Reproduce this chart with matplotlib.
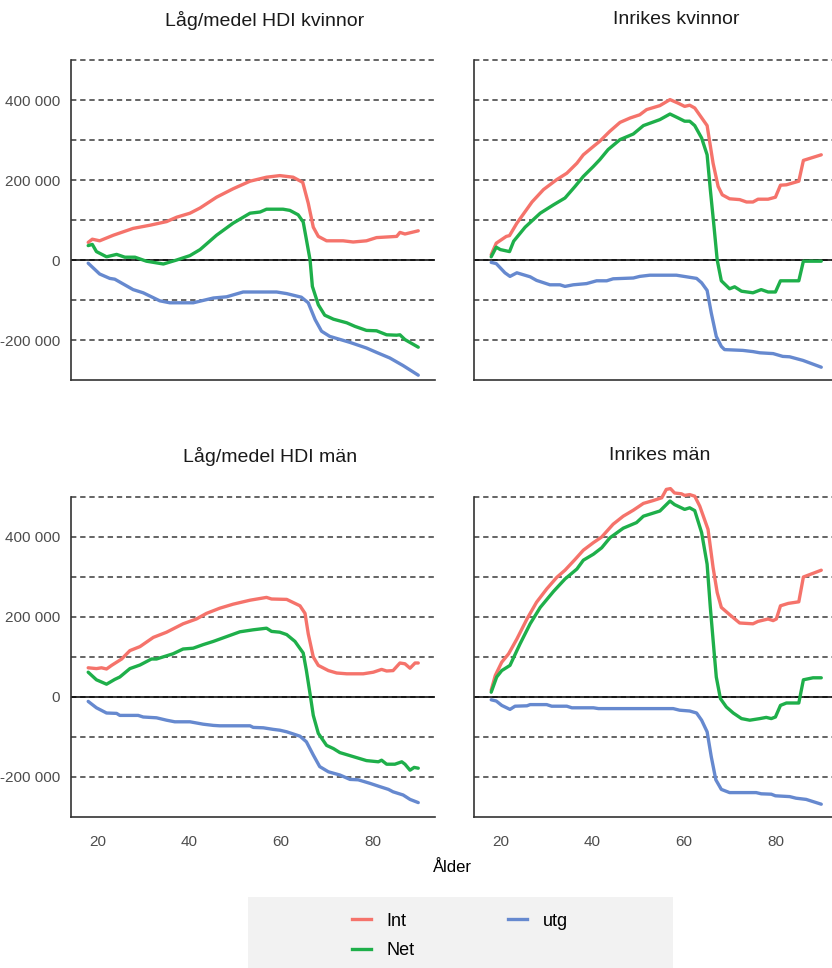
import matplotlib
matplotlib.use("Agg")
import matplotlib.pyplot as plt
from matplotlib.lines import Line2D
from matplotlib.patches import Rectangle
from matplotlib.ticker import FuncFormatter

plt.rcParams['font.family'] = ['Liberation Sans', 'DejaVu Sans']

# Värden i tusental
# Låg/medel HDI kvinnor
lk_int_age = [18, 18.9, 20.5, 23.5, 27.8, 31.5, 35.1, 37.3, 40.2, 42.4, 46, 49.6, 53.3, 56.9, 59.8,
              62.7, 64.8, 66, 67.1, 68.2, 70, 73.6, 75.8, 78.7, 80.9, 85.3, 86, 87.1, 90]
lk_int = [44, 52, 48, 62, 79, 87, 96, 107, 117, 130, 157, 178, 197, 207, 211,
          207, 194, 142, 82, 59, 48, 48, 45, 48, 56, 59, 69, 65, 73]
lk_net_age = [18, 18.9, 19.8, 22, 24.2, 26, 28.2, 30.7, 34.4, 37.3, 40.2, 42.4, 46, 49.6, 53.3, 55.5,
              56.9, 60.5, 62, 63.8, 64.9, 65.6, 66.4, 66.9, 68.2, 69.6, 71.5, 74.4, 76.2, 78.7,
              80.9, 83.1, 85.3, 86, 87.1, 90]
lk_net = [36, 39, 21, 8, 14, 7, 7, -3, -10, 0, 11, 26, 62, 92, 117, 120,
          127, 127, 124, 113, 95, 51, 0, -66, -112, -138, -148, -157, -166, -176,
          -177, -187, -188, -187, -199, -218]
lk_utg_age = [18, 20.5, 22.7, 23.8, 27.8, 30, 33.6, 35.8, 40.9, 45.3, 48.2, 51.8, 59.1, 61.3, 64.5,
              66, 67.5, 68.9, 70.7, 75.1, 78.7, 80.9, 83.8, 86.7, 90]
lk_utg = [-8, -35, -46, -48, -74, -82, -102, -107, -107, -95, -92, -80, -80, -84, -93,
          -107, -149, -178, -191, -206, -220, -231, -245, -264, -288]

# Inrikes kvinnor
ik_int_age = [18, 19.1, 21.3, 22, 23.6, 26.9, 29.4, 32.3, 34.5, 36.7, 38.1, 40.3, 41.7, 43.9, 46.1,
              48.3, 50.4, 51.9, 54.8, 57, 58.8, 60.2, 61.3, 62.4, 65.1, 66.4, 67.5, 68.4, 70, 72.2,
              73.7, 75.1, 76.2, 78.4, 80, 81.1, 82.4, 85.1, 86.1, 90]
ik_int = [13, 42, 59, 61, 92, 145, 176, 201, 217, 242, 263, 284, 297, 322, 344,
          355, 363, 376, 386, 401, 392, 384, 387, 380, 336, 242, 184, 163, 153, 151,
          145, 145, 152, 152, 157, 187, 188, 197, 249, 263]
ik_net_age = [18, 19.1, 20, 22, 22.9, 25.4, 28.7, 31.6, 34.1, 36.3, 38.1, 40.3, 41.7, 43.5, 46.1,
              49, 51.2, 54.8, 57, 58.8, 60.2, 61.3, 62.4, 63.9, 65.1, 65.8, 66.6, 67.3, 68.2, 70,
              71.1, 72.6, 75.1, 76.9, 78.4, 80, 81.1, 85.1, 86.1, 90]
ik_net = [8, 32, 26, 21, 47, 82, 117, 138, 155, 184, 209, 234, 251, 276, 301,
          315, 336, 351, 365, 355, 347, 347, 336, 305, 263, 176, 84, 0, -52, -72,
          -67, -78, -82, -74, -80, -80, -52, -52, -3, -3]
ik_utg_age = [18, 19.1, 21, 22.1, 23.6, 26.5, 27.9, 30.8, 33, 34.1, 35.9, 38.8, 41, 43.2, 44.6,
              49, 50.4, 52.6, 58.4, 60.6, 62.8, 63.9, 65.1, 66, 67.1, 68.2, 68.9, 72.9, 75.1, 76.6,
              79.5, 81.6, 83.1, 86, 90]
ik_utg = [-6, -9, -32, -41, -32, -42, -51, -62, -62, -66, -62, -59, -52, -52, -47,
          -45, -41, -38, -38, -42, -46, -57, -76, -132, -191, -216, -224, -226, -229, -232,
          -234, -241, -242, -251, -268]

# Låg/medel HDI män
lm_int_age = [18, 19.8, 20.9, 22, 23.1, 25.3, 27.1, 29.3, 32.2, 35.1, 38.7, 41.6, 43.8, 46.7, 49.6,
              53.3, 56.9, 58, 61.3, 64.2, 65.3, 66, 67.1, 68.2, 70.4, 72.2, 74.4, 78, 80.2, 82,
              83.1, 84.5, 86, 87.1, 88.2, 89.3, 90]
lm_int = [73, 71, 73, 70, 79, 95, 116, 126, 149, 162, 183, 195, 209, 222, 232,
          242, 249, 245, 244, 228, 209, 158, 100, 79, 66, 60, 58, 58, 62, 69,
          65, 66, 85, 83, 72, 85, 85]
lm_net_age = [18, 19.8, 22, 23.8, 24.9, 27.1, 29.3, 31.8, 32.9, 36.5, 38.7, 40.9, 43.1, 45.3, 48.2,
              51.1, 54, 56.9, 58, 59.8, 61.3, 63.1, 64.9, 65.6, 66.5, 67.1, 68.2, 70, 71.5, 72.9,
              75.8, 78.7, 81.3, 82, 83.1, 84.9, 86.4, 87.1, 88.2, 89.1, 90]
lm_net = [62, 43, 32, 44, 50, 71, 80, 95, 95, 108, 120, 122, 131, 139, 151,
          163, 168, 172, 164, 162, 156, 139, 110, 66, 0, -46, -91, -121, -129, -139,
          -149, -159, -162, -158, -168, -168, -162, -168, -183, -176, -178]
lm_utg_age = [18, 19.8, 22, 24.2, 24.9, 28.9, 30, 32.9, 35.1, 36.9, 40.2, 43.1, 45.3, 46.7, 53.3,
              54, 56.2, 58.4, 59.8, 61.3, 64.2, 65.6, 67.1, 68.5, 70.4, 72.9, 75.1, 76.9, 79.5, 81.6,
              83.5, 84.5, 86.7, 88.2, 90]
lm_utg = [-11, -27, -40, -41, -46, -46, -50, -52, -58, -62, -62, -68, -71, -72, -72,
          -76, -77, -81, -83, -87, -98, -112, -145, -174, -187, -195, -206, -207, -216, -224,
          -231, -237, -245, -256, -264]

# Inrikes män
im_int_age = [18, 18.9, 20.3, 21.8, 23.6, 25.8, 27.9, 30.1, 32.3, 34.1, 36.3, 38.1, 40.3, 42.1, 44.6,
              46.8, 49, 51.2, 53.3, 55.2, 56.2, 57.1, 58, 59.5, 60.2, 61.3, 62.4, 63.5, 65.3, 66.4,
              67.3, 68.2, 70, 72.2, 75.1, 76.2, 78.4, 79.5, 80.2, 81.1, 82.8, 85.1, 86.1, 90]
im_int = [17, 54, 87, 108, 145, 195, 237, 270, 299, 317, 344, 367, 386, 400, 432,
          452, 467, 484, 491, 498, 519, 521, 510, 508, 504, 506, 502, 477, 419, 324,
          261, 224, 206, 185, 183, 189, 195, 191, 195, 228, 234, 238, 300, 317]
im_net_age = [18, 19.2, 20.3, 22.1, 23.6, 24.3, 26.5, 28.7, 31.6, 34.1, 36.7, 38.1, 40.3, 42.1, 43.9,
              46.8, 49.7, 51.2, 54.8, 57, 58, 60.2, 61.3, 62.4, 63.9, 65.1, 65.8, 66.6, 67.1, 68,
              69.3, 70.8, 72.6, 74.4, 76.6, 78, 79.1, 80, 81.1, 82.4, 85.1, 86.1, 88.2, 90]
im_net = [12, 50, 66, 79, 116, 133, 183, 224, 264, 295, 320, 342, 357, 373, 398,
          422, 436, 452, 465, 490, 481, 469, 473, 466, 411, 332, 224, 116, 50, -4,
          -25, -40, -54, -58, -54, -51, -54, -50, -21, -15, -15, 43, 48, 48]
im_utg_age = [18, 19.1, 20.3, 22.1, 23.2, 25.8, 26.5, 30.1, 31.2, 34.5, 35.6, 40.3, 41.4, 57.7, 59.1,
              61.3, 62.8, 63.9, 65.1, 66, 67, 68.2, 70, 75.8, 76.9, 79.1, 80, 83.1, 84.5, 86.7, 90]
im_utg = [-7, -10, -21, -31, -23, -22, -19, -19, -23, -23, -27, -27, -29, -29, -33,
          -35, -40, -58, -87, -149, -207, -231, -239, -239, -242, -243, -247, -249, -253, -256, -268]

titlar = ["Låg/medel HDI kvinnor", "Inrikes kvinnor", "Låg/medel HDI män", "Inrikes män"]
serienamn = ["Int", "Net", "utg"]
farger = ["#F5736B", "#1EAF4A", "#6689CF"]

paneler = [
    [(lk_int_age, lk_int), (lk_net_age, lk_net), (lk_utg_age, lk_utg)],
    [(ik_int_age, ik_int), (ik_net_age, ik_net), (ik_utg_age, ik_utg)],
    [(lm_int_age, lm_int), (lm_net_age, lm_net), (lm_utg_age, lm_utg)],
    [(im_int_age, im_int), (im_net_age, im_net), (im_utg_age, im_utg)],
]

W, H = 832, 968
fig = plt.figure(figsize=(W / 100, H / 100), dpi=100)

# panelernas placering i pixlar: vänster, topp
placering = [(71, 60), (474, 60), (71, 497), (474, 497)]
titel_x = [265, 676, 270, 660]
titel_y = [20, 20, 456, 456]
bredd, hojd = 364, 320


def tusental(v, pos):
    if v == 0:
        return "0"
    return f"{int(v):,}".replace(",", " ")


for i, (l, t) in enumerate(placering):
    ax = fig.add_axes([l / W, 1 - (t + hojd) / H, bredd / W, hojd / H])
    ax.set_xlim(14.25, 93.65)
    ax.set_ylim(-300000, 500000)
    for g in [-200000, -100000, 100000, 200000, 300000, 400000, 500000]:
        ax.axhline(g, color="#3a3a3a", lw=1.1, ls=(0, (3.5, 2.5)), zorder=1, clip_on=False)
    ax.axhline(0, color="#3a3a3a", lw=1.1, ls=(0, (3.5, 2.5)), zorder=1)
    ax.axhline(0, color="black", lw=1.1, zorder=2)
    for (x, y), c in zip(paneler[i], farger):
        ax.plot(x, [v * 1000 for v in y], color=c, lw=2.4, zorder=3, clip_on=False,
                solid_joinstyle="round", solid_capstyle="round")
    for s in ["top", "right"]:
        ax.spines[s].set_visible(False)
    for s in ["left", "bottom"]:
        ax.spines[s].set_color("#333333")
        ax.spines[s].set_linewidth(1.2)
    ax.set_yticks([-200000, 0, 200000, 400000])
    ax.set_xticks([20, 40, 60, 80])
    ax.yaxis.set_major_formatter(FuncFormatter(tusental))
    ax.tick_params(length=0, labelsize=11, labelcolor="#4d4d4d")
    ax.tick_params(axis="y", pad=8)
    ax.tick_params(axis="x", pad=13)
    if i % 2 == 1:
        ax.tick_params(axis="y", labelleft=False)
    if i < 2:
        ax.tick_params(axis="x", labelbottom=False)
    fig.text(titel_x[i] / W, 1 - titel_y[i] / H, titlar[i], ha="center", va="center",
             fontsize=14, color="#1a1a1a")

fig.text(452 / W, 1 - 868 / H, "Ålder", ha="center", va="center", fontsize=12, color="black")

# legend med grå bakgrund
fig.patches.append(Rectangle((248 / W, 0), (673 - 248) / W, 1 - 897 / H,
                             transform=fig.transFigure, facecolor="#f2f2f2",
                             edgecolor="none", zorder=0))
handtag = [Line2D([0], [0], color=c, lw=2.4) for c in farger]
fig.legend(handtag, serienamn, ncol=2, loc="center", bbox_to_anchor=(460 / W, 1 - 936 / H),
           frameon=False, fontsize=13, handlelength=1.05, handletextpad=0.85,
           columnspacing=5.2, labelspacing=0.7, borderpad=0)

fig.savefig("out.png", dpi=100)
